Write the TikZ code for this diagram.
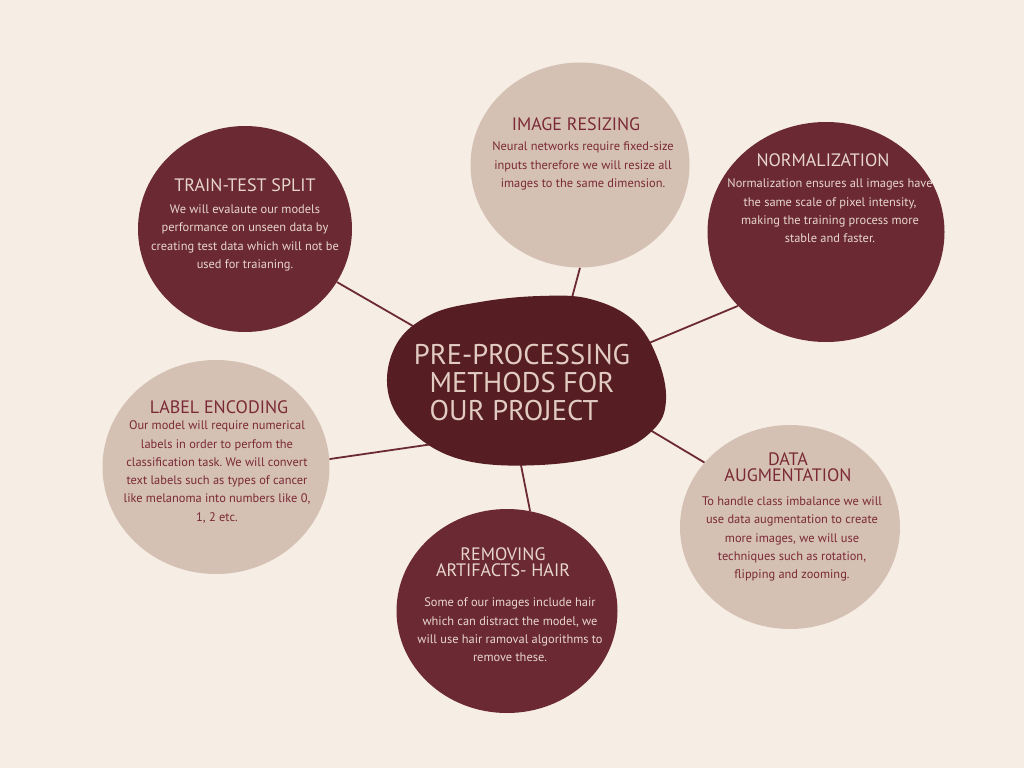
\documentclass[tikz,border=0pt]{standalone}
\usepackage{fontspec}
\setmainfont{PT Sans}
\frenchspacing
\usetikzlibrary{shapes.geometric,backgrounds}
\definecolor{bgc}{HTML}{F6EDE4}
\definecolor{darkc}{HTML}{6B2A33}
\definecolor{lightc}{HTML}{D5C0B4}
\definecolor{blobc}{HTML}{561D23}
\definecolor{txtlight}{HTML}{E8D6CD}
\definecolor{txtdark}{HTML}{7A2A36}
\definecolor{titlec}{HTML}{E2CCC2}
\tikzset{
  bubble/.style={ellipse, inner sep=0pt, draw=none},
  darkbubble/.style={bubble, fill=darkc},
  lightbubble/.style={bubble, fill=lightc},
  headtext/.style={align=center, inner sep=0pt, font=\fontsize{18}{16.5}\selectfont},
  bodytext/.style={align=center, inner sep=0pt, font=\fontsize{12.4}{18.3}\selectfont},
  onDark/.style={text=txtlight},
  onLight/.style={text=txtdark},
  link/.style={draw=darkc, line width=1.8pt},
}
\begin{document}
\begin{tikzpicture}[x=1pt,y=-1pt]
\useasboundingbox (0,0) rectangle (1024,768);

% bubbles
\node[lightbubble, minimum width=219pt, minimum height=205pt] (resize) at (580,165) {};
\node[darkbubble, minimum width=237pt, minimum height=220pt] (norm) at (826,232) {};
\node[darkbubble, minimum width=214pt, minimum height=206pt] (split) at (245,229) {};
\node[lightbubble, minimum width=227pt, minimum height=214pt] (label) at (216,467) {};
\node[lightbubble, minimum width=220pt, minimum height=204pt] (aug) at (790,527) {};
\node[darkbubble, minimum width=221pt, minimum height=204pt] (hair) at (507,611) {};

% central blob
\fill[blobc] plot[smooth cycle, tension=0.65] coordinates {
  (430,315) (480,302) (540,296) (590,299) (633,320) (657,357) (666,400)
  (653,430) (613,453) (540,465) (463,460) (412,432) (388,392) (396,345)};
\node[inner sep=0pt, minimum size=1pt] (blob) at (525,380) {};
\coordinate (bsplit) at (432,337);
\coordinate (bresize) at (566,320);
\coordinate (bnorm) at (625,353);
\coordinate (blabel) at (440,443);
\coordinate (baug) at (630,418);
\coordinate (bhair) at (517,445);

% background and connectors (behind)
\begin{pgfonlayer}{background}
\fill[bgc] (0,0) rectangle (1024,768);
\draw[link] (split.-30.5) -- (bsplit);
\draw[link] (resize.-90) -- (bresize);
\draw[link] (norm.220.3) -- (bnorm);
\draw[link] (label.4.5) -- (blabel);
\draw[link] (aug.143.7) -- (baug);
\draw[link] (hair.77) -- (bhair);
\end{pgfonlayer}

% title
\node[align=center, inner sep=0pt, text=titlec, font=\fontsize{28.5}{28}\selectfont] (title) at (522,383)
  {PRE-PROCESSING\\METHODS FOR\\OUR PROJECT\hspace*{16pt}};

% texts
\node[headtext, onLight] (resizeH) at (576,124) {IMAGE RESIZING};
\node[bodytext, onLight] (resizeB) at (583,166) {Neural networks require fixed-size\\inputs therefore we will resize all\\images to the same dimension.};

\node[headtext, onDark] (normH) at (823,160) {NORMALIZATION};
\node[bodytext, onDark] (normB) at (830,211) {Normalization ensures all images have\\the same scale of pixel intensity,\\making the training process more\\stable and faster.};

\node[headtext, onDark] (splitH) at (245,185) {TRAIN-TEST SPLIT};
\node[bodytext, onDark] (splitB) at (245,238) {We will evalaute our models\\performance on unseen data by\\creating test data which will not be\\used for traianing.};

\node[headtext, onLight] (labelH) at (219,407) {LABEL ENCODING};
\node[bodytext, onLight] (labelB) at (217,472) {Our model will require numerical\\labels in order to perfom the\\classification task. We will convert\\text labels such as types of cancer\\like melanoma into numbers like 0,\\1, 2 etc.};

\node[headtext, onLight] (augH) at (788,467) {DATA\\AUGMENTATION};
\node[bodytext, onLight] (augB) at (792,539) {To handle class imbalance we will\\use data augmentation to create\\more images, we will use\\techniques such as rotation,\\flipping and zooming.};

\node[headtext, onDark] (hairH) at (503,562) {REMOVING\\ARTIFACTS- HAIR};
\node[bodytext, onDark] (hairB) at (510,630) {Some of our images include hair\\which can distract the model, we\\will use hair ramoval algorithms to\\remove these.};
\end{tikzpicture}
\end{document}
